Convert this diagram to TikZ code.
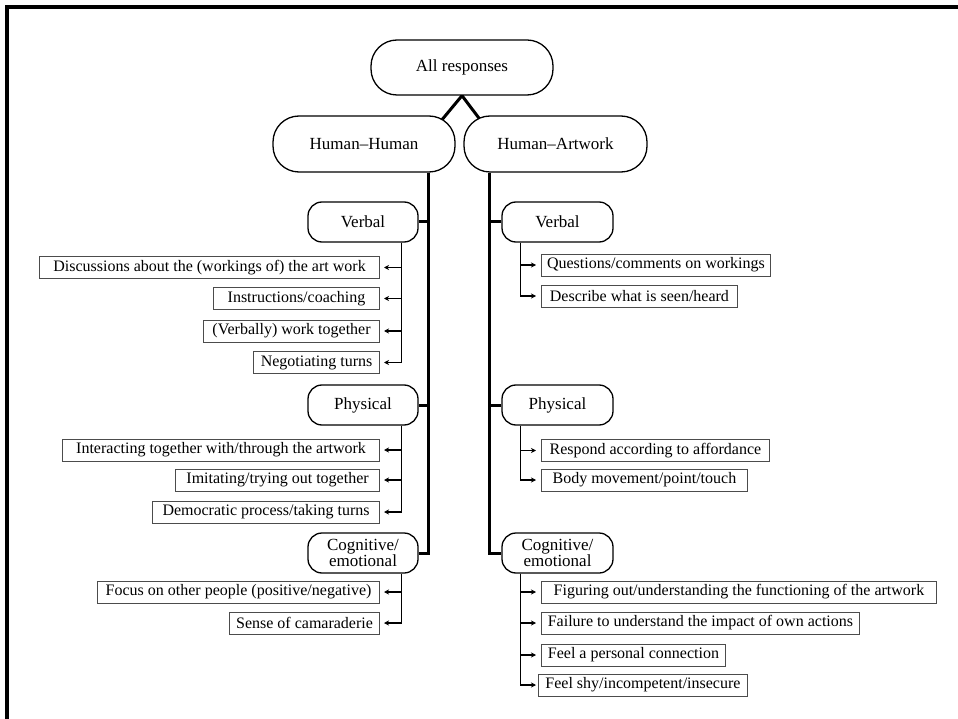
\documentclass[tikz,border=0pt]{standalone}
\usepackage{fontspec}
\setmainfont{Liberation Serif}
\usetikzlibrary{arrows.meta,backgrounds}
\begin{document}
\begin{tikzpicture}[x=1pt,y=-1pt,
  rbox/.style={draw=black, line width=1.3pt, fill=white, rounded corners=14pt,
    minimum width=110pt, minimum height=40pt, inner sep=0pt, align=center,
    font=\fontsize{17}{15}\selectfont},
  bigbox/.style={rbox, rounded corners=26pt, minimum width=182pt, minimum height=56pt},
  leaf/.style={draw=black!70, line width=0.9pt, fill=white, minimum height=22pt,
    inner xsep=2pt, inner ysep=0pt, font=\fontsize{16}{16}\selectfont},
  leafL/.style={leaf, anchor=east},
  leafR/.style={leaf, anchor=west},
  trunk/.style={line width=3pt, line join=miter},
  branch/.style={line width=1.4pt, -{Stealth[length=5pt,width=5pt,inset=1.5pt]}},
]
\useasboundingbox (0,0) rectangle (958,719);
\draw[line width=3.5pt] (958,7) -- (7,7) -- (7,719);

% top level
\node[bigbox, minimum height=55pt] (all) at (462,67.5) {All responses};
\node[bigbox] (hh) at (364,144) {Human--Human};
\node[bigbox, minimum width=183pt] (ha) at (555.5,144) {Human--Artwork};

% second level
\node[rbox] (lverb) at (363,222) {Verbal};
\node[rbox] (lphys) at (363,405) {Physical};
\node[rbox] (lcog) at (363,553) {Cognitive/\\emotional};
\node[rbox, minimum width=111pt] (rverb) at (557.5,222) {Verbal};
\node[rbox, minimum width=111pt] (rphys) at (557.5,405) {Physical};
\node[rbox, minimum width=111pt] (rcog) at (557.5,553) {Cognitive/\\emotional};

% left leaves
\node[leafL, minimum width=340pt] (d1) at (380,267.5) {Discussions about the (workings of) the art work};
\node[leafL, minimum width=166pt] (d2) at (380,298.5) {Instructions/coaching};
\node[leafL, minimum width=176pt] (d3) at (380,331) {(Verbally) work together};
\node[leafL, minimum width=126pt] (d4) at (380,362.5) {Negotiating turns};
\node[leafL, minimum width=317pt] (p1) at (380,450) {Interacting together with/through the artwork};
\node[leafL, minimum width=204pt] (p2) at (380,480) {Imitating/trying out together};
\node[leafL, minimum width=227pt] (p3) at (380,512) {Democratic process/taking turns};
\node[leafL, minimum width=282pt] (c1) at (380,592) {Focus on other people (positive/negative)};
\node[leafL, minimum width=150pt] (c2) at (380,623) {Sense of camaraderie};

% right leaves
\node[leafR, minimum width=229pt] (q1) at (541,265) {Questions/comments on workings};
\node[leafR, minimum width=196pt] (q2) at (541,296) {Describe what is seen/heard};
\node[leafR, minimum width=228pt] (r1) at (541,450.5) {Respond according to affordance};
\node[leafR, minimum width=206pt] (r2) at (541,480) {Body movement/point/touch};
\node[leafR, minimum width=395pt] (f1) at (541,592) {Figuring out/understanding the functioning of the artwork};
\node[leafR, minimum width=318pt] (f2) at (541,623) {Failure to understand the impact of own actions};
\node[leafR, minimum width=184pt] (f3) at (541,655) {Feel a personal connection};
\node[leafR, minimum width=209pt] (f4) at (538,685) {Feel shy/incompetent/insecure};

\begin{pgfonlayer}{background}
  % V from the root
  \draw[trunk] ([xshift=-15pt,yshift=-6pt]hh.north east) -- (all.south) -- ([xshift=18pt,yshift=-6pt]ha.north west);
  % trunks
  \coordinate (tL) at ([xshift=-27pt]hh.south east);
  \coordinate (tR) at ([xshift=26pt]ha.south west);
  \draw[trunk] (tL) |- (lcog.east);
  \draw[trunk] (lverb.east) -- (lverb.east -| tL);
  \draw[trunk] (lphys.east) -- (lphys.east -| tL);
  \draw[trunk] (tR) |- (rcog.west);
  \draw[trunk] (rverb.west) -- (rverb.west -| tR);
  \draw[trunk] (rphys.west) -- (rphys.west -| tR);
\end{pgfonlayer}

% left branches
\foreach \n in {d1,d2,d3,d4} \draw[branch] ([xshift=-17pt]lverb.south east) |- ([xshift=4pt]\n.east);
\foreach \n in {p1,p2,p3} \draw[branch] ([xshift=-17pt]lphys.south east) |- ([xshift=4pt]\n.east);
\foreach \n in {c1,c2} \draw[branch] ([xshift=-17pt]lcog.south east) |- ([xshift=4pt]\n.east);
% right branches
\foreach \n in {q1,q2} \draw[branch] ([xshift=19pt]rverb.south west) |- ([xshift=-5pt]\n.west);
\foreach \n in {r1,r2} \draw[branch] ([xshift=19pt]rphys.south west) |- ([xshift=-5pt]\n.west);
\foreach \n in {f1,f2,f3} \draw[branch] ([xshift=19pt]rcog.south west) |- ([xshift=-5pt]\n.west);
\draw[branch] ([xshift=19pt]rcog.south west) |- ([xshift=-2pt]f4.west);
\end{tikzpicture}
\end{document}
